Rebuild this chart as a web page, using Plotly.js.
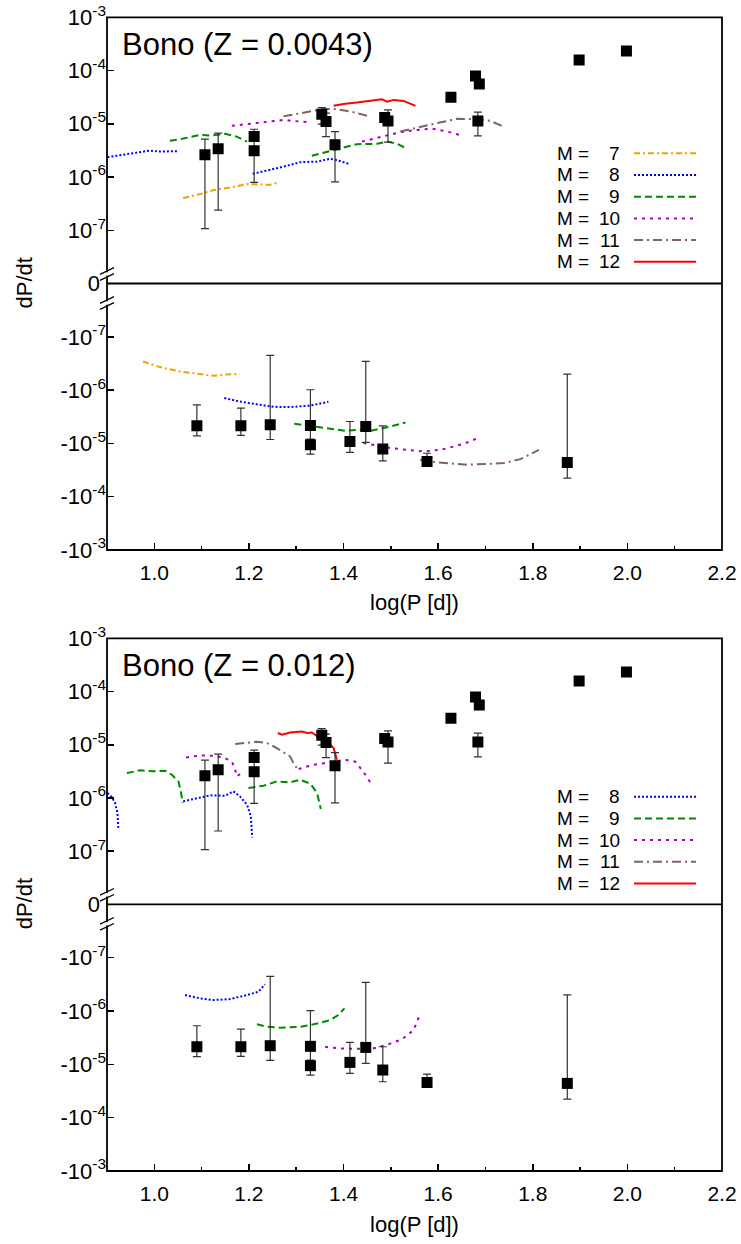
<!DOCTYPE html>
<html><head><meta charset="utf-8">
<script src="https://cdn.plot.ly/plotly-3.0.1.min.js"></script>
<style>html,body{margin:0;padding:0;background:#fff}#chart{width:741px;height:1244px}</style>
</head><body><div id="chart"></div>
<script>
// ---------- observed period changes (same in both panels) ----------
const obsPosLogP = [1.107, 1.135, 1.211, 1.211, 1.354, 1.363, 1.382, 1.487, 1.494, 1.627, 1.679, 1.687, 1.684, 1.898, 1.998];
const obsPosRate = [2.61e-6, 3.38e-6, 5.75e-6, 3.1e-6, 1.51e-5, 1.10e-5, 4.02e-6, 1.31e-5, 1.13e-5, 3.15e-5, 7.9e-5, 5.6e-5, 1.13e-5, 1.58e-4, 2.33e-4];
const obsPosHigh = [5.14e-6, 6.67e-6, null, 7.9e-6, 2.01e-5, 1.58e-5, 7.14e-6, null, 1.82e-5, null, null, null, 1.65e-5, null, null];
const obsPosLow  = [1.07e-7, 2.39e-7, null, 7.9e-7, 9.82e-6, 5.75e-6, 8.1e-7, null, 4.52e-6, null, null, null, 5.93e-6, null, null];

const obsNegLogP = [1.090, 1.183, 1.245, 1.330, 1.330, 1.4135, 1.447, 1.483, 1.5765, 1.873];
const obsNegRate = [-4.68e-6, -4.68e-6, -4.48e-6, -4.6e-6, -1.06e-5, -9.2e-6, -4.82e-6, -1.28e-5, -2.19e-5, -2.28e-5];
const obsNegNear = [-1.89e-6, -2.18e-6, -2.24e-7, -9.86e-7, -8.6e-6, -3.88e-6, -2.9e-7, -4.68e-6, -1.53e-5, -5.0e-7];
const obsNegFar  = [-7.2e-6, -7.1e-6, -8.45e-6, -8.3e-6, -1.59e-5, -1.48e-5, -9.6e-6, -2.12e-5, -2.71e-5, -4.48e-5];

// ---------- Bono models, Z = 0.0043 ----------
const z1m7PosX = [1.061, 1.097, 1.128, 1.160, 1.196, 1.224, 1.245, 1.262];
const z1m7PosY = [4.02e-7, 4.78e-7, 5.75e-7, 6.35e-7, 7.36e-7, 7.36e-7, 7.15e-7, 7.89e-7];
const z1m7NegX = [0.976, 1.012, 1.054, 1.097, 1.125, 1.153, 1.180];
const z1m7NegY = [-2.90e-7, -3.70e-7, -4.48e-7, -5.01e-7, -5.39e-7, -5.09e-7, -5.01e-7];
const z1m8PosAX = [0.901, 0.927, 0.956, 0.991, 1.009, 1.051];
const z1m8PosAY = [2.36e-6, 2.58e-6, 2.81e-6, 3.14e-6, 3.01e-6, 3.06e-6];
const z1m8PosBX = [1.208, 1.252, 1.280, 1.308, 1.344, 1.372, 1.389, 1.411];
const z1m8PosBY = [1.15e-6, 1.41e-6, 1.62e-6, 1.90e-6, 1.95e-6, 2.20e-6, 2.04e-6, 1.77e-6];
const z1m8NegX = [1.148, 1.181, 1.224, 1.252, 1.287, 1.330, 1.368];
const z1m8NegY = [-1.41e-6, -1.64e-6, -1.89e-6, -2.06e-6, -2.08e-6, -1.95e-6, -1.66e-6];
const z1m9PosAX = [1.033, 1.061, 1.097, 1.118, 1.150, 1.174, 1.196];
const z1m9PosAY = [4.78e-6, 5.27e-6, 6.19e-6, 6.01e-6, 6.47e-6, 5.75e-6, 4.63e-6];
const z1m9PosBX = [1.333, 1.379, 1.428, 1.471, 1.492, 1.513, 1.535];
const z1m9PosBY = [2.50e-6, 3.24e-6, 4.14e-6, 4.20e-6, 4.63e-6, 4.20e-6, 3.38e-6];
const z1m9NegX = [1.296, 1.337, 1.379, 1.404, 1.435, 1.457, 1.499, 1.531];
const z1m9NegY = [-4.29e-6, -4.82e-6, -5.39e-6, -5.81e-6, -5.56e-6, -5.81e-6, -4.82e-6, -4.05e-6];
const z1m10PosAX = [1.164, 1.210, 1.245, 1.273, 1.294, 1.326];
const z1m10PosAY = [9.14e-6, 1.03e-5, 1.13e-5, 1.18e-5, 1.13e-5, 1.07e-5];
const z1m10PosBX = [1.439, 1.478, 1.520, 1.555, 1.587, 1.619, 1.651];
const z1m10PosBY = [4.63e-6, 5.61e-6, 6.96e-6, 7.68e-6, 8.13e-6, 7.14e-6, 6.01e-6];
const z1m10NegX = [1.442, 1.467, 1.499, 1.534, 1.573, 1.612, 1.654, 1.689];
const z1m10NegY = [-9.86e-6, -1.09e-5, -1.22e-5, -1.32e-5, -1.42e-5, -1.28e-5, -1.02e-5, -7.62e-6];
const z1m11PosAX = [1.273, 1.308, 1.337, 1.358, 1.386, 1.421, 1.457];
const z1m11PosAY = [1.38e-5, 1.58e-5, 1.75e-5, 1.90e-5, 1.88e-5, 1.65e-5, 1.36e-5];
const z1m11PosBX = [1.520, 1.555, 1.598, 1.640, 1.682, 1.711, 1.742];
const z1m11PosBY = [7.14e-6, 8.49e-6, 1.03e-5, 1.24e-5, 1.22e-5, 1.13e-5, 8.49e-6];
const z1m11NegX = [1.562, 1.598, 1.661, 1.696, 1.739, 1.774, 1.813];
const z1m11NegY = [-2.03e-5, -2.28e-5, -2.52e-5, -2.45e-5, -2.34e-5, -1.97e-5, -1.32e-5];
const z1m12PosX = [1.379, 1.400, 1.428, 1.457, 1.481, 1.492, 1.506, 1.527, 1.552];
const z1m12PosY = [2.19e-5, 2.36e-5, 2.50e-5, 2.72e-5, 2.90e-5, 2.61e-5, 2.81e-5, 2.69e-5, 2.17e-5];

// ---------- Bono models, Z = 0.012 ----------
const z2m8PosAX = [0.901, 0.910, 0.917, 0.922, 0.924];
const z2m8PosAY = [1.24e-6, 1.04e-6, 8.06e-7, 5.23e-7, 2.74e-7];
const z2m8PosBX = [1.061, 1.090, 1.118, 1.150, 1.167, 1.181, 1.196, 1.204, 1.207];
const z2m8PosBY = [8.63e-7, 1.0e-6, 1.12e-6, 1.10e-6, 1.33e-6, 1.07e-6, 7.48e-7, 4.52e-7, 1.80e-7];
const z2m8NegX = [1.065, 1.097, 1.125, 1.160, 1.196, 1.220, 1.234];
const z2m8NegY = [-5.03e-7, -5.81e-7, -6.24e-7, -5.98e-7, -5.03e-7, -4.37e-7, -3.17e-7];
const z2m9PosAX = [0.942, 0.970, 0.998, 1.023, 1.037, 1.051, 1.056, 1.060];
const z2m9PosAY = [2.95e-6, 3.30e-6, 3.16e-6, 3.25e-6, 2.73e-6, 2.05e-6, 1.33e-6, 8.06e-7];
const z2m9PosBX = [1.199, 1.231, 1.259, 1.287, 1.308, 1.330, 1.344, 1.352];
const z2m9PosBY = [1.54e-6, 1.70e-6, 2.05e-6, 1.96e-6, 2.20e-6, 1.85e-6, 1.24e-6, 6.22e-7];
const z2m9NegX = [1.217, 1.238, 1.266, 1.308, 1.337, 1.372, 1.389, 1.402];
const z2m9NegY = [-1.78e-6, -1.98e-6, -2.06e-6, -1.98e-6, -1.78e-6, -1.48e-6, -1.19e-6, -8.93e-7];
const z2m10PosAX = [1.067, 1.097, 1.125, 1.146, 1.164, 1.171, 1.174, 1.188];
const z2m10PosAY = [5.78e-6, 6.30e-6, 6.22e-6, 5.78e-6, 4.86e-6, 3.40e-6, 2.54e-6, 3.08e-6];
const z2m10PosBX = [1.305, 1.336, 1.371, 1.403, 1.425, 1.442, 1.457];
const z2m10PosBY = [3.50e-6, 4.21e-6, 4.66e-6, 5.23e-6, 4.80e-6, 3.11e-6, 1.94e-6];
const z2m10NegX = [1.361, 1.395, 1.428, 1.460, 1.492, 1.524, 1.548, 1.555, 1.561];
const z2m10NegY = [-4.70e-6, -5.04e-6, -5.12e-6, -5.12e-6, -4.31e-6, -3.37e-6, -2.28e-6, -1.66e-6, -1.19e-6];
const z2m11PosX = [1.171, 1.192, 1.217, 1.238, 1.259, 1.273, 1.287, 1.294, 1.301];
const z2m11PosY = [1.03e-5, 1.08e-5, 1.14e-5, 1.08e-5, 8.67e-6, 7.18e-6, 6.04e-6, 4.54e-6, 3.66e-6];
const z2m12PosX = [1.261, 1.270, 1.287, 1.312, 1.323, 1.333, 1.347, 1.365, 1.379, 1.386];
const z2m12PosY = [1.66e-5, 1.54e-5, 1.70e-5, 1.78e-5, 1.66e-5, 1.70e-5, 1.39e-5, 1.15e-5, 8.67e-6, 5.23e-6];

// ---------- labels ----------
const panelTitles = ['Bono (Z = 0.0043)', 'Bono (Z = 0.012)'];
const legendMasses1 = [7, 8, 9, 10, 11, 12];
const legendMasses2 = [8, 9, 10, 11, 12];
const xTickVals = [1.0, 1.2, 1.4, 1.6, 1.8, 2.0, 2.2];
const posTickVals = [1e-8, 1e-7, 1e-6, 1e-5, 1e-4, 1e-3];
const posTickText = ['0&nbsp;', '10<sup>-7</sup>', '10<sup>-6</sup>', '10<sup>-5</sup>', '10<sup>-4</sup>', '10<sup>-3</sup>'];
const negTickVals = [1e-7, 1e-6, 1e-5, 1e-4, 1e-3];
const negTickText = ['-10<sup>-7</sup>', '-10<sup>-6</sup>', '-10<sup>-5</sup>', '-10<sup>-4</sup>', '-10<sup>-3</sup>'];
const xTitle = 'log(P [d])';
const yTitle = 'dP/dt';

// ---------- styling ----------
const STY = {
  7:  {color: '#eea200', dash: '6px,3px,2px,3px'},
  8:  {color: '#0000ff', dash: '2px,2px'},
  9:  {color: '#008a00', dash: '7px,4px'},
  10: {color: '#a800c0', dash: '3px,5px'},
  11: {color: '#806464', dash: '9px,4px,2px,4px'},
  12: {color: '#ff0000', dash: 'solid'}
};
const W = 741, H = 1244;
const fx = p => p / W, fy = p => 1 - p / H;
const FONT = 'Liberation Sans, Arial, Helvetica, sans-serif';

const traces = [];
function join() { // join segments with gaps
  let out = [];
  for (let i = 0; i < arguments.length; i++) { if (i) out.push(null); out = out.concat(arguments[i]); }
  return out;
}
function curve(m, xs, ys, xa, ya) {
  traces.push({type: 'scatter', mode: 'lines', x: xs, y: ys.map(v => v === null ? null : Math.abs(v)),
    xaxis: xa, yaxis: ya, line: {color: STY[m].color, width: 2, dash: STY[m].dash},
    showlegend: false, hoverinfo: 'skip', connectgaps: false});
}
// panel 1 (x, y top, y2 bottom)
curve(7, z1m7PosX, z1m7PosY, 'x', 'y');
curve(8, join(z1m8PosAX, z1m8PosBX), join(z1m8PosAY, z1m8PosBY), 'x', 'y');
curve(9, join(z1m9PosAX, z1m9PosBX), join(z1m9PosAY, z1m9PosBY), 'x', 'y');
curve(10, join(z1m10PosAX, z1m10PosBX), join(z1m10PosAY, z1m10PosBY), 'x', 'y');
curve(11, join(z1m11PosAX, z1m11PosBX), join(z1m11PosAY, z1m11PosBY), 'x', 'y');
curve(12, z1m12PosX, z1m12PosY, 'x', 'y');
curve(7, z1m7NegX, z1m7NegY, 'x', 'y2');
curve(8, z1m8NegX, z1m8NegY, 'x', 'y2');
curve(9, z1m9NegX, z1m9NegY, 'x', 'y2');
curve(10, z1m10NegX, z1m10NegY, 'x', 'y2');
curve(11, z1m11NegX, z1m11NegY, 'x', 'y2');
// panel 2 (x2, y3 top, y4 bottom)
curve(8, join(z2m8PosAX, z2m8PosBX), join(z2m8PosAY, z2m8PosBY), 'x2', 'y3');
curve(9, join(z2m9PosAX, z2m9PosBX), join(z2m9PosAY, z2m9PosBY), 'x2', 'y3');
curve(10, join(z2m10PosAX, z2m10PosBX), join(z2m10PosAY, z2m10PosBY), 'x2', 'y3');
curve(11, z2m11PosX, z2m11PosY, 'x2', 'y3');
curve(12, z2m12PosX, z2m12PosY, 'x2', 'y3');
curve(8, z2m8NegX, z2m8NegY, 'x2', 'y4');
curve(9, z2m9NegX, z2m9NegY, 'x2', 'y4');
curve(10, z2m10NegX, z2m10NegY, 'x2', 'y4');

// observed points
const posPlus = obsPosRate.map((v, i) => obsPosHigh[i] === null ? NaN : obsPosHigh[i] - v);
const posMinus = obsPosRate.map((v, i) => obsPosLow[i] === null ? NaN : v - obsPosLow[i]);
const negMag = obsNegRate.map(Math.abs);
const negPlus = obsNegRate.map((v, i) => Math.abs(obsNegFar[i]) - Math.abs(v));
const negMinus = obsNegRate.map((v, i) => Math.abs(v) - Math.abs(obsNegNear[i]));
function obs(xs, ys, plus, minus, xa, ya) {
  traces.push({type: 'scatter', mode: 'markers', x: xs, y: ys, xaxis: xa, yaxis: ya,
    marker: {symbol: 'square', size: 11, color: '#000'},
    error_y: {type: 'data', symmetric: false, array: plus, arrayminus: minus,
      color: '#333', thickness: 1.2, width: 4},
    showlegend: false, hoverinfo: 'skip'});
}
obs(obsPosLogP, obsPosRate, posPlus, posMinus, 'x', 'y');
obs(obsNegLogP, negMag, negPlus, negMinus, 'x', 'y2');
obs(obsPosLogP, obsPosRate, posPlus, posMinus, 'x2', 'y3');
obs(obsNegLogP, negMag, negPlus, negMinus, 'x2', 'y4');

// ---------- geometry (px) ----------
const L = 107, R = 722;
const panels = [
  {top: 17.3, mid: 283.5, bot: 550},
  {top: 638.4, mid: 904.3, bot: 1171}
];
function xax(p, anchor, standoff) {
  return {domain: [fx(L), fx(R)], range: [0.9, 2.2], anchor: anchor, tickmode: 'array',
    tickvals: xTickVals, ticktext: xTickVals.map(v => v.toFixed(1)),
    ticks: 'inside', ticklen: 7, tickwidth: 1.5, tickcolor: '#000', ticklabelstandoff: 8,
    minor: {tickmode: 'linear', tick0: 0.9, dtick: 0.1, ticks: 'inside', ticklen: 4, tickwidth: 1.5, tickcolor: '#000'},
    showgrid: false, zeroline: false, showline: false, tickfont: {family: FONT, size: 21, color: '#000'},
    title: {text: xTitle, font: {family: FONT, size: 22, color: '#000'}, standoff: standoff}};
}
function yax(lo, hi, rng, tv, tt, anchor) {
  return {domain: [fy(lo), fy(hi)], type: 'log', range: rng, anchor: anchor, tickmode: 'array',
    tickvals: tv, ticktext: tt, ticks: 'inside', ticklen: 7, tickwidth: 1.5, tickcolor: '#000',
    showgrid: false, zeroline: false, showline: false, tickfont: {family: FONT, size: 22, color: '#000'}};
}

const shapes = [];
const annotations = [];
panels.forEach((p, k) => {
  // frame and zero line
  shapes.push({type: 'rect', xref: 'paper', yref: 'paper', x0: fx(L), x1: fx(R), y0: fy(p.bot), y1: fy(p.top),
    line: {color: '#000', width: 1.8}, layer: 'above'});
  shapes.push({type: 'line', xref: 'paper', yref: 'paper', x0: fx(L), x1: fx(R), y0: fy(p.mid), y1: fy(p.mid),
    line: {color: '#000', width: 1.8}, layer: 'above'});
  // axis break marks
  [[-12.5, -6.5], [16.5, 22.5]].forEach(([a, b]) => {
    shapes.push({type: 'line', xref: 'paper', yref: 'paper', x0: fx(L), x1: fx(L), y0: fy(p.mid + a + 1.3), y1: fy(p.mid + b - 1.3),
      line: {color: '#fff', width: 4}, layer: 'above'});
    [a, b].forEach(c => {
      shapes.push({type: 'line', xref: 'paper', yref: 'paper', x0: fx(L - 7), x1: fx(L + 7),
        y0: fy(p.mid + c + 3.3), y1: fy(p.mid + c - 3.3), line: {color: '#000', width: 1.3}, layer: 'above'});
    });
  });
  // panel label
  annotations.push({xref: 'paper', yref: 'paper', x: fx(120), y: fy(p.top + 27), xanchor: 'left', yanchor: 'middle',
    text: panelTitles[k], showarrow: false, font: {family: FONT, size: 31, color: '#000'}});
  // y title
  annotations.push({xref: 'paper', yref: 'paper', x: fx(24), y: fy(p.mid), xanchor: 'center', yanchor: 'middle',
    text: yTitle, textangle: -90, showarrow: false, font: {family: FONT, size: 22, color: '#000'}});
  // legend (text left, sample right)
  const masses = k === 0 ? legendMasses1 : legendMasses2;
  const row0 = k === 0 ? p.top + 136 : p.top + 158.3;
  masses.forEach((m, i) => {
    const yy = row0 + i * 21.7;
    annotations.push({xref: 'paper', yref: 'paper', x: fx(556), y: fy(yy), xanchor: 'left', yanchor: 'middle',
      text: 'M =', showarrow: false, borderpad: 0, font: {family: FONT, size: 19, color: '#000'}});
    annotations.push({xref: 'paper', yref: 'paper', x: fx(621), y: fy(yy), xanchor: 'right', yanchor: 'middle',
      text: String(m), showarrow: false, borderpad: 0, font: {family: FONT, size: 19, color: '#000'}});
    shapes.push({type: 'line', xref: 'paper', yref: 'paper', x0: fx(634), x1: fx(696), y0: fy(yy), y1: fy(yy),
      line: {color: STY[m].color, width: 2, dash: STY[m].dash}});
  });
});

const layout = {
  width: W, height: H, margin: {l: 0, r: 0, t: 0, b: 0}, paper_bgcolor: '#fff', plot_bgcolor: 'rgba(0,0,0,0)',
  showlegend: false, font: {family: FONT, color: '#000'},
  xaxis: xax(panels[0], 'y2', 11),
  xaxis2: xax(panels[1], 'y4', 12),
  yaxis: yax(panels[0].mid, panels[0].top, [-8, -3], posTickVals, posTickText, 'x'),
  yaxis2: yax(panels[0].bot, panels[0].mid, [-3, -8], negTickVals, negTickText, 'x'),
  yaxis3: yax(panels[1].mid, panels[1].top, [-8, -3], posTickVals, posTickText, 'x2'),
  yaxis4: yax(panels[1].bot, panels[1].mid, [-3, -8], negTickVals, negTickText, 'x2'),
  shapes: shapes, annotations: annotations
};
Plotly.newPlot('chart', traces, layout, {staticPlot: true, displayModeBar: false});
</script></body></html>
